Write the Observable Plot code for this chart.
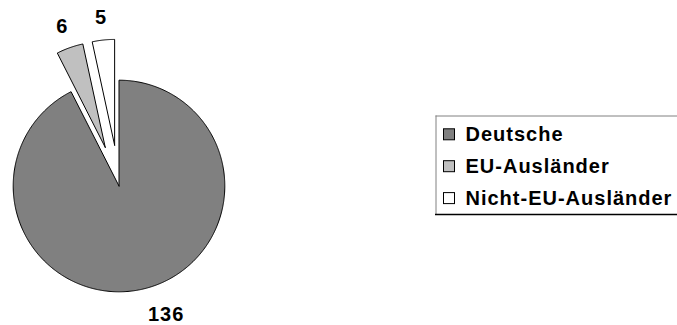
<!DOCTYPE html>
<html>
<head>
<meta charset="utf-8">
<script src="https://cdn.jsdelivr.net/npm/d3@7"></script>
<script src="https://cdn.jsdelivr.net/npm/@observablehq/plot@0.6"></script>
<style>
  html, body { margin: 0; padding: 0; background: #fff; }
  #chart svg text { letter-spacing: 1px; }
</style>
</head>
<body>
<div id="chart"></div>
<script>
// ---- data ----
const categories = ["Deutsche", "EU-Ausländer", "Nicht-EU-Ausländer"];
const values = [136, 6, 5];
const sliceLabels = ["136", "6", "5"];

// ---- style / layout ----
const colors = ["#808080", "#c0c0c0", "#ffffff"];
const W = 677, H = 325;
const cx = 118.5, cy = 185.5, R = 105.8;
const explode = 41;          // offset of the detached slices
const labelR = 125;          // label anchor radius
const charW = 12, halfH = 7.5;

const arcs = d3.pie().sort(null).value(d => d)(values);

const slicePts = [];
const labelData = [];
arcs.forEach((a, i) => {
  const name = categories[i];
  const mid = (a.startAngle + a.endAngle) / 2;
  const off = i > 0 ? explode : 0;
  const ox = cx + off * Math.sin(mid), oy = cy - off * Math.cos(mid);
  slicePts.push({name, x: ox, y: oy});
  const n = Math.max(4, Math.ceil((a.endAngle - a.startAngle) / 0.01));
  for (let k = 0; k <= n; k++) {
    const t = a.startAngle + (a.endAngle - a.startAngle) * k / n;
    slicePts.push({name, x: ox + R * Math.sin(t), y: oy - R * Math.cos(t)});
  }
  slicePts.push({name, x: ox, y: oy});
  // label placement
  const s = Math.sin(mid), c = Math.cos(mid);
  const lab = sliceLabels[i];
  let lx, ly;
  if (c < 0) { // lower half: box corner touches anchor
    const ax = ox + labelR * s, ay = oy - labelR * c;
    lx = ax + Math.sign(s) * lab.length * charW / 2;
    ly = ay + halfH;
  } else {     // upper half: centred on a radial point
    lx = ox + (labelR + 3) * s;
    ly = oy - (labelR + 3) * c;
  }
  labelData.push({label: lab, x: lx, y: ly});
});

const legendRows = categories.map((name, i) => ({name, i}));
const rowY = i => 134.3 + i * 31.9;

const chart = Plot.plot({
  width: W, height: H,
  margin: 0,
  x: {domain: [0, W], range: [0, W], axis: null},
  y: {domain: [0, H], range: [0, H], axis: null},
  color: {domain: categories, range: colors},
  style: {fontFamily: "'Liberation Sans', Arial, sans-serif", background: "#fff"},
  marks: [
    Plot.line(slicePts, {x: "x", y: "y", z: "name", fill: "name", stroke: "#000", strokeWidth: 1, strokeLinejoin: "miter"}),
    Plot.text(labelData, {x: "x", y: "y", text: "label", fontSize: 20, fontWeight: "bold", fill: "#000"}),
    // legend frame
    Plot.ruleY([115.5], {x1: 435.5, x2: W, stroke: "#808080", strokeWidth: 1}),
    Plot.ruleX([435.5], {y1: 115.5, y2: 214, stroke: "#808080", strokeWidth: 1}),
    Plot.ruleY([214], {x1: 435, x2: W, stroke: "#000", strokeWidth: 1.5}),
    // legend entries
    Plot.rect(legendRows, {x1: 443.5, x2: 454.5, y1: d => rowY(d.i) - 5.5, y2: d => rowY(d.i) + 5.5, fill: "name", stroke: "#000", strokeWidth: 1}),
    Plot.text(legendRows, {x: 465, y: d => rowY(d.i), text: "name", textAnchor: "start", fontSize: 20, fontWeight: "bold", fill: "#000"})
  ]
});
document.getElementById("chart").appendChild(chart);
</script>
</body>
</html>
